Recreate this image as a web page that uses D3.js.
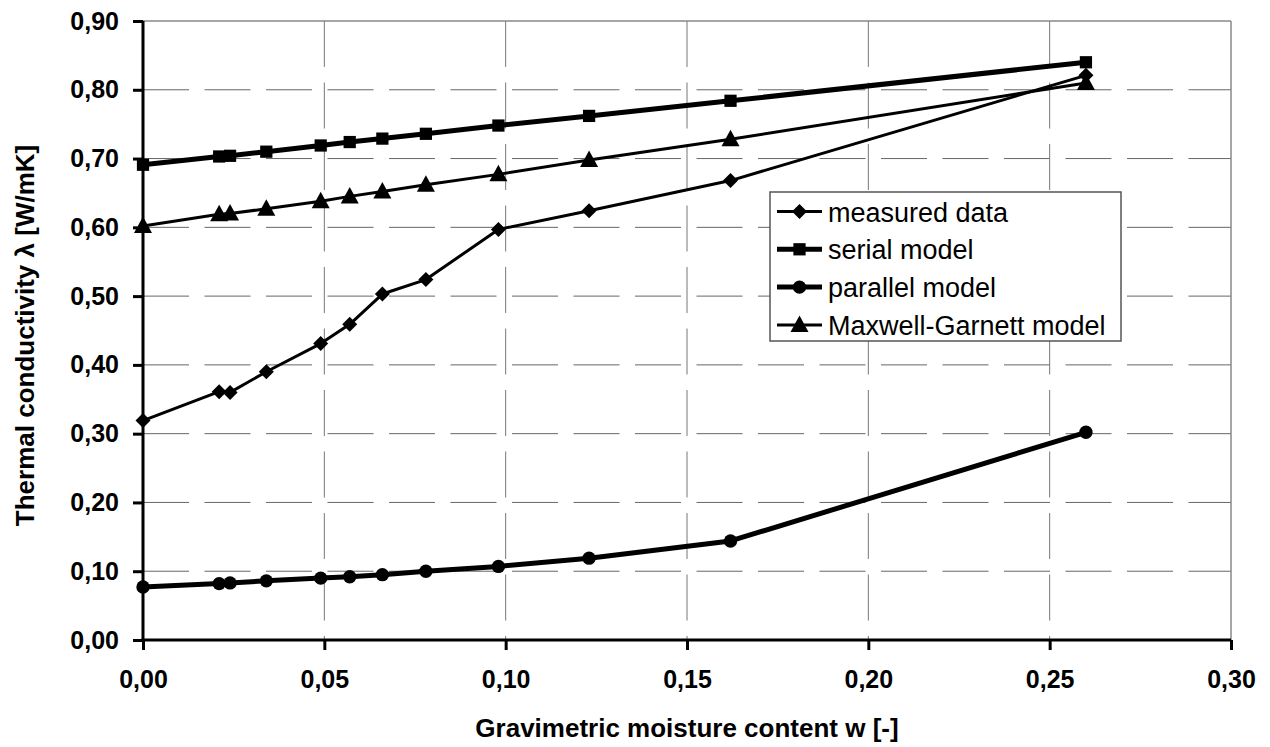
<!DOCTYPE html>
<html><head><meta charset="utf-8">
<script src="https://cdn.jsdelivr.net/npm/d3@7"></script>
<style>body{margin:0;background:#fff}svg{display:block}</style>
</head><body>
<svg id="c" width="1270" height="747"></svg>
<script>
const moisture = [0, 0.021, 0.024, 0.034, 0.049, 0.057, 0.066, 0.078, 0.098, 0.123, 0.162, 0.26];
const measured = [0.319, 0.361, 0.360, 0.390, 0.431, 0.459, 0.503, 0.524, 0.597, 0.624, 0.668, 0.821];
const serial   = [0.691, 0.703, 0.704, 0.710, 0.719, 0.724, 0.729, 0.736, 0.748, 0.762, 0.784, 0.840];
const parallel = [0.077, 0.082, 0.083, 0.086, 0.090, 0.092, 0.095, 0.100, 0.107, 0.119, 0.144, 0.302];
const maxwell  = [0.602, 0.619, 0.620, 0.627, 0.638, 0.645, 0.652, 0.662, 0.677, 0.698, 0.728, 0.810];
const seriesNames = ["measured data", "serial model", "parallel model", "Maxwell-Garnett model"];
const xTicks = [0, 0.05, 0.10, 0.15, 0.20, 0.25, 0.30];
const yTicks = [0, 0.1, 0.2, 0.3, 0.4, 0.5, 0.6, 0.7, 0.8, 0.9];
const xTitle = "Gravimetric moisture content w [-]";
const yTitle = "Thermal conductivity λ [W/mK]";

const svg = d3.select("#c");
const L = 143, R = 1231, T = 21, B = 640;
const x = d3.scaleLinear().domain([0, 0.30]).range([L, R]);
const y = d3.scaleLinear().domain([0, 0.90]).range([B, T]);
const fmt = d => d3.format(".2f")(d).replace(".", ",");
const FONT = "'Liberation Sans', Arial, sans-serif";

// gridlines
const g = svg.append("g");
g.selectAll("line.h").data(yTicks.filter(v => v > 0 && v < 0.9)).join("line")
  .attr("x1", L).attr("x2", R).attr("y1", d => y(d)).attr("y2", d => y(d))
  .attr("stroke", "#666").attr("stroke-width", 1).attr("stroke-dasharray", "46,15.5");
g.selectAll("line.v").data(xTicks.filter(v => v > 0 && v < 0.3)).join("line")
  .attr("x1", d => x(d)).attr("x2", d => x(d)).attr("y1", T).attr("y2", B)
  .attr("stroke", "#777").attr("stroke-width", 1).attr("stroke-dasharray", "46,15.5");
// top and right border
g.append("line").attr("x1", L).attr("x2", R).attr("y1", y(0.9)).attr("y2", y(0.9)).attr("stroke", "#888").attr("stroke-width", 1.5);
g.append("line").attr("x1", x(0.3)).attr("x2", x(0.3)).attr("y1", T).attr("y2", B).attr("stroke", "#888").attr("stroke-width", 1.5);

// axes
const xAxis = d3.axisBottom(x).tickValues(xTicks).tickFormat(fmt).tickSizeInner(10).tickSizeOuter(0).tickPadding(20);
const yAxis = d3.axisLeft(y).tickValues(yTicks).tickFormat(fmt).tickSizeInner(10).tickSizeOuter(0).tickPadding(14);
const gx = svg.append("g").attr("transform", `translate(0,${B})`).call(xAxis);
const gy = svg.append("g").attr("transform", `translate(${L},0)`).call(yAxis);
[gx, gy].forEach(a => {
  a.select(".domain").attr("stroke", "#000").attr("stroke-width", 3);
  a.selectAll(".tick line").attr("stroke", "#000").attr("stroke-width", 3);
  a.selectAll(".tick text").attr("fill", "#000").style("font-family", FONT)
   .style("font-size", "25px").style("font-weight", "bold");
});
gy.select(".domain").attr("d", `M0,${B + 1.5}V${T}`);
gx.select(".domain").attr("d", `M${L - 1.5},0H${R}`);

// titles
svg.append("text").attr("x", (L + R) / 2).attr("y", 737).attr("text-anchor", "middle")
  .style("font-family", FONT).style("font-size", "26px").style("font-weight", "bold").text(xTitle);
svg.append("text").attr("transform", `translate(34,${(T + B) / 2 + 5}) rotate(-90)`).attr("text-anchor", "middle")
  .style("font-family", FONT).style("font-size", "26px").style("font-weight", "bold").text(yTitle);

// markers
const diamondPath = "M0,-7.5L7.5,0L0,7.5L-7.5,0Z";
const sym = {
  diamond: () => diamondPath,
  square: d3.symbol().type(d3.symbolSquare).size(150),
  circle: d3.symbol().type(d3.symbolCircle).size(140),
  triangle: () => "M0,-9.5L9,7L-9,7Z"
};
const series = [
  {name: seriesNames[0], vals: measured, w: 3, m: "diamond"},
  {name: seriesNames[1], vals: serial, w: 5, m: "square"},
  {name: seriesNames[2], vals: parallel, w: 5, m: "circle"},
  {name: seriesNames[3], vals: maxwell, w: 3, m: "triangle"}
];
const line = d3.line().x(d => x(d[0])).y(d => y(d[1]));
series.forEach(s => {
  const pts = moisture.map((m, i) => [m, s.vals[i]]);
  svg.append("path").attr("d", line(pts)).attr("fill", "none").attr("stroke", "#000")
    .attr("stroke-width", s.w).attr("stroke-linejoin", "round");
  svg.append("g").selectAll("path").data(pts).join("path")
    .attr("transform", d => `translate(${x(d[0])},${y(d[1])})`).attr("d", sym[s.m]).attr("fill", "#000");
});

// legend
const lg = svg.append("g");
lg.append("rect").attr("x", 770).attr("y", 192).attr("width", 351).attr("height", 149)
  .attr("fill", "#fff").attr("stroke", "#555").attr("stroke-width", 1.5);
series.forEach((s, i) => {
  const cy = 211.5 + i * 37.8;
  lg.append("line").attr("x1", 777).attr("x2", 822).attr("y1", cy).attr("y2", cy)
    .attr("stroke", "#000").attr("stroke-width", s.w);
  lg.append("path").attr("transform", `translate(799.5,${cy})`).attr("d", sym[s.m]).attr("fill", "#000");
  lg.append("text").attr("x", 828).attr("y", cy + 10).style("font-family", FONT)
    .style("font-size", "27px").text(s.name);
});
</script>
</body></html>
